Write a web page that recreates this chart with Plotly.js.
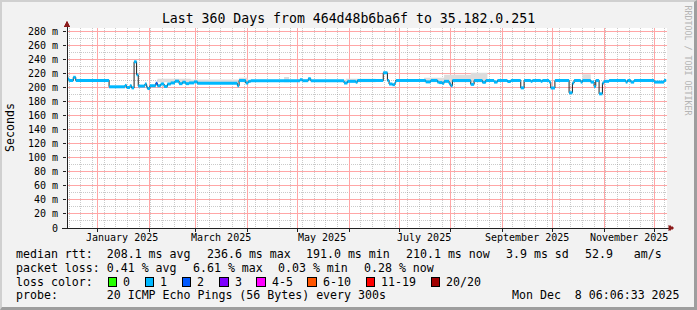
<!DOCTYPE html>
<html><head><meta charset="utf-8">
<script src="https://cdn.plot.ly/plotly-3.0.1.min.js"></script>
<style>
html,body{margin:0;padding:0;background:#f2f2f2;}
#wrap{position:relative;width:697px;height:310px;overflow:hidden;}
#chart{width:697px;height:310px;}
#chart .shapelayer path{shape-rendering:crispEdges;}
#frame{position:absolute;left:0;top:0;width:697px;height:310px;box-sizing:border-box;border-top:2px solid #d0d0d0;border-left:2px solid #d0d0d0;border-right:3px solid #9e9e9e;border-bottom:3px solid #9e9e9e;pointer-events:none;}
</style></head><body>
<div id="wrap"><div id="chart"></div><div id="frame"></div></div>
<script>
// ---------------- data ----------------
const titleText = 'Last 360 Days from 464d48b6ba6f to 35.182.0.251';
const yTitle = 'Seconds';
const xRange = ['2024-12-13 18:00', '2025-12-08 18:00'];
const dataEnd = '2025-12-08 06:00';

const stepDates = [
 '2024-12-13 18:00','2024-12-15 00:00','2024-12-17 12:00','2024-12-19 00:00','2025-01-08 00:00',
 '2025-01-17 12:00','2025-01-18 12:00','2025-01-20 12:00','2025-01-21 12:00','2025-01-23 00:00',
 '2025-01-24 12:00','2025-01-25 12:00','2025-01-29 12:00','2025-01-30 12:00','2025-01-31 00:00',
 '2025-02-01 12:00','2025-02-05 00:00','2025-02-06 00:00','2025-02-08 00:00','2025-02-10 00:00',
 '2025-02-12 00:00','2025-02-14 00:00','2025-02-16 12:00','2025-02-19 00:00','2025-02-21 00:00',
 '2025-02-23 00:00','2025-02-25 00:00','2025-02-28 00:00','2025-03-02 00:00','2025-03-26 00:00',
 '2025-03-27 00:00','2025-03-31 00:00','2025-04-01 12:00','2025-04-03 00:00','2025-05-02 12:00',
 '2025-05-04 00:00','2025-05-07 12:00','2025-05-09 00:00','2025-05-29 00:00','2025-05-31 00:00',
 '2025-06-05 00:00','2025-06-06 00:00','2025-06-21 12:00','2025-06-24 00:00','2025-06-25 00:00',
 '2025-06-27 00:00','2025-06-28 12:00','2025-06-29 00:00','2025-07-17 00:00','2025-07-20 00:00',
 '2025-07-24 00:00','2025-07-25 00:00','2025-07-27 00:00','2025-07-28 00:00','2025-07-31 00:00',
 '2025-08-01 00:00','2025-08-02 00:00','2025-08-13 00:00','2025-08-15 00:00','2025-08-20 00:00',
 '2025-08-22 00:00','2025-08-27 00:00','2025-08-29 00:00','2025-09-04 00:00','2025-09-06 00:00',
 '2025-09-12 00:00','2025-09-14 00:00','2025-09-18 00:00','2025-09-19 00:00','2025-09-24 00:00',
 '2025-09-25 00:00','2025-09-29 00:00','2025-09-30 00:00','2025-10-02 12:00','2025-10-11 00:00',
 '2025-10-13 00:00','2025-10-14 00:00','2025-10-18 00:00','2025-10-19 00:00','2025-10-24 00:00',
 '2025-10-26 00:00','2025-10-27 00:00','2025-10-29 00:00','2025-10-31 00:00','2025-11-01 00:00',
 '2025-11-04 00:00','2025-11-14 00:00','2025-11-15 00:00','2025-11-17 00:00','2025-11-19 00:00',
 '2025-12-01 00:00','2025-12-07 00:00'
];
const medianMs = [
 212,210,214.5,210.1,201,
 203,200,202.5,199.5,236.6,
 218,202,205,201,198.5,
 202.5,206,202.5,205,201.5,
 205,206.5,209,205.5,207.5,
 205.5,206.5,208,206,202.5,
 210,206.4,208.8,209.7,211,
 209.7,212.5,209.7,206.4,208.8,
 207.5,210,221,210,205,
 204,207,210,208,210,
 207.7,207,206,208.8,205.5,
 202.5,210,204.5,210,207.4,
 210,207.7,210,208.5,210,
 199.5,210,208.8,210,208.8,
 210,207.7,199.3,210,192.5,
 206.4,210,207.7,210,207.7,
 201.6,210,191,206.4,208.8,
 210,207.7,210,207.7,210,
 207.7,210.1
];
// loss colour class of each step (index into lossLabels)
const lossClass = [
 1,1,1,1,1, 1,1,1,1,1, 1,1,1,1,1, 1,2,1,1,1, 1,1,1,1,1, 1,1,1,1,1,
 1,1,1,1,1, 1,1,1,1,1, 1,1,1,1,1, 1,1,1,1,1, 1,1,1,1,1, 1,1,1,1,1,
 1,1,1,1,1, 1,1,1,1,1, 1,1,1,1,1, 1,1,1,1,1, 1,1,1,1,1, 1,1,1,1,1,
 1,1
];
// smoke (spread of the pings) blocks
const smokeStart = ['2024-12-13 18:00','2025-02-06 00:00','2025-02-26 00:00','2025-03-27 00:00','2025-04-23 00:00','2025-05-30 00:00','2025-07-16 00:00','2025-07-28 00:00','2025-08-13 00:00','2025-10-19 00:00'];
const smokeEnd   = ['2024-12-15 00:00','2025-02-26 00:00','2025-03-27 00:00','2025-04-01 00:00','2025-04-26 00:00','2025-06-17 00:00','2025-07-28 00:00','2025-08-13 00:00','2025-08-23 00:00','2025-10-24 00:00'];
const smokeTopMs = [218,212.5,211.5,214,215,212.5,214,218,221,219];

const yTickVals = [0,20,40,60,80,100,120,140,160,180,200,220,240,260,280];
const yTickText = ['0','20 m','40 m','60 m','80 m','100 m','120 m','140 m','160 m','180 m','200 m','220 m','240 m','260 m','280 m'];
const monthLabelDates = ['2025-01-16','2025-03-16','2025-05-16','2025-07-16','2025-09-16','2025-11-16'];
const monthLabels = ['January 2025','March 2025','May 2025','July 2025','September 2025','November 2025'];

const rttStats = [208.1, 236.6, 191.0, 210.1, 3.9];
const rttStatNames = ['avg','max','min','now','sd'];
const amPerSec = 52.9;
const lossStats = [0.41, 6.61, 0.03, 0.28];
const lossStatNames = ['avg','max','min','now'];
const lossLabels = ['0','1','2','3','4-5','6-10','11-19','20/20'];
const lossColors = ['#26ff00','#00b8ff','#0059ff','#7e00ff','#ff00ff','#ff5500','#ff0000','#a10000'];
const probeText = '20 ICMP Echo Pings (56 Bytes) every 300s';
const stampText = 'Mon Dec  8 06:06:33 2025';
const watermark = 'RRDTOOL / TOBI OETIKER';

// ---------------- layout helpers ----------------
const MONO = 'DejaVu Sans Mono, monospace';
const L = 67, T = 28, W = 600, H = 200;
const px = x => (x - L) / W;
const py = y => (T + H - y) / H;
const LEG = 11.6, CW = 0.602 * LEG;
const nb = s => s.replace(/ /g, '\u00a0');
const YMAX = 200 / 0.7025;

// ---------------- traces ----------------
const traces = [];
const sx = [], sy = [];
const SMOKE_BASE = 207.5;
for (let i = 0; i < smokeStart.length; i++) {
  sx.push(smokeStart[i], smokeStart[i], smokeEnd[i], smokeEnd[i], smokeStart[i], null);
  sy.push(SMOKE_BASE, smokeTopMs[i], smokeTopMs[i], SMOKE_BASE, SMOKE_BASE, null);
}
traces.push({x: sx, y: sy, type: 'scatter', mode: 'lines', fill: 'toself', fillcolor: '#dcdcdc', line: {width: 0, color: '#dcdcdc'}, hoverinfo: 'skip'});
const medX = stepDates.concat([dataEnd]);
const medY = medianMs.concat([medianMs[medianMs.length - 1]]);
traces.push({x: medX, y: medY, type: 'scatter', mode: 'lines', line: {shape: 'hv', color: '#202020', width: 1}, hoverinfo: 'skip'});
const segEnds = stepDates.slice(1).concat([dataEnd]);
[...new Set(lossClass)].forEach(c => {
  const bx = [], by = [];
  for (let i = 0; i < stepDates.length; i++) {
    if (lossClass[i] !== c) continue;
    bx.push(stepDates[i], segEnds[i], null);
    by.push(medianMs[i], medianMs[i], null);
  }
  traces.push({x: bx, y: by, type: 'scatter', mode: 'lines', line: {color: lossColors[c], width: 3}, hoverinfo: 'skip'});
});
// invisible anchor so the overlaid (major-grid) axes are drawn
traces.push({x: [dataEnd], y: [0], xaxis: 'x2', yaxis: 'y2', type: 'scatter', mode: 'markers', marker: {opacity: 0}, hoverinfo: 'skip'});

// ---------------- annotations & shapes ----------------
const shapes = [];
const annotations = [];
function txt(t, x, y, o) {
  annotations.push(Object.assign({text: nb(t), xref: 'paper', yref: 'paper', x: px(x), y: py(y), showarrow: false,
    xanchor: 'left', yanchor: 'middle', borderpad: 0, borderwidth: 0,
    font: {family: MONO, size: LEG, color: '#000'}}, o || {}));
}
monthLabelDates.forEach((d, i) => annotations.push({text: nb(monthLabels[i]), xref: 'x', yref: 'paper', x: d, y: py(237.5),
  showarrow: false, xanchor: 'center', yanchor: 'middle', borderpad: 0, borderwidth: 0, font: {family: MONO, size: 10, color: '#000'}}));
txt(yTitle, 10, 128, {textangle: -90, xanchor: 'center'});
txt(watermark, 687.5, 60, {textangle: 90, xanchor: 'center', font: {family: MONO, size: 8.3, color: '#b4b4b4'}});

const row1 = rttStats.map((v, i) => v.toFixed(1) + ' ms ' + rttStatNames[i]);
row1[0] = 'median rtt:  ' + row1[0];
row1.push(amPerSec.toFixed(1) + '   am/s');
let cx = 16;
row1.forEach(s => { txt(s, cx, 254.2); cx += s.length * CW + 16; });
const row2 = lossStats.map((v, i) => v.toFixed(2) + ' % ' + lossStatNames[i]);
row2[0] = 'packet loss: ' + row2[0];
cx = 16;
row2.forEach(s => { txt(s, cx, 267.6); cx += s.length * CW + 16; });
txt('loss color:', 16, 281.5);
cx = 16 + 11 * CW + 15.3;
lossLabels.forEach((lab, i) => {
  shapes.push({type: 'rect', xref: 'paper', yref: 'paper', x0: px(cx), x1: px(cx + 8.5), y0: py(286), y1: py(277.5),
    fillcolor: lossColors[i], line: {color: '#000', width: 1}});
  txt(lab, cx + 15, 281.5);
  cx += 15 + lab.length * CW + 15.2;
});
txt('probe:       ' + probeText, 16, 295.2);
txt(stampText, 680, 295.2, {xanchor: 'right'});

const AX = '#202020', ARROW = '#8b1a1a';
shapes.push({type: 'line', xref: 'paper', yref: 'paper', x0: px(67), x1: px(67), y0: py(228), y1: py(24), line: {color: AX, width: 1}});
shapes.push({type: 'line', xref: 'paper', yref: 'paper', x0: px(62), x1: px(670), y0: py(228), y1: py(228), line: {color: AX, width: 1}});
shapes.push({type: 'path', xref: 'paper', yref: 'paper', fillcolor: ARROW, line: {color: ARROW, width: 0.5},
  path: `M ${px(67)} ${py(21)} L ${px(64.2)} ${py(26.5)} L ${px(69.8)} ${py(26.5)} Z`});
shapes.push({type: 'path', xref: 'paper', yref: 'paper', fillcolor: ARROW, line: {color: ARROW, width: 0.5},
  path: `M ${px(674)} ${py(228)} L ${px(668.5)} ${py(225.2)} L ${px(668.5)} ${py(230.8)} Z`});

const MAJ = '#ffa6a6', MIN = 'rgba(128,128,128,0.42)', DASH = '1px,1px';
const layout = {
  width: 697, height: 310,
  margin: {l: L, r: 697 - L - W, t: T, b: 310 - T - H, pad: 0},
  paper_bgcolor: '#f2f2f2', plot_bgcolor: '#ffffff',
  showlegend: false,
  title: {text: titleText, font: {family: MONO, size: 13.2, color: '#000'}, xref: 'container', x: 0.5, xanchor: 'center',
          yref: 'container', y: 1 - 18.5 / 310, yanchor: 'middle'},
  // minor grid: weekly (Sundays) / every 10 ms
  xaxis: {type: 'date', range: xRange, tick0: '2024-12-15', dtick: 7 * 86400000, showticklabels: false, ticks: '',
          showgrid: true, gridcolor: MIN, griddash: DASH, gridwidth: 1, zeroline: false, showline: false, fixedrange: true},
  yaxis: {range: [0, YMAX], tick0: 10, dtick: 20, showticklabels: false, ticks: '',
          showgrid: true, gridcolor: MIN, griddash: DASH, gridwidth: 1, zeroline: false, showline: false, fixedrange: true},
  // major grid: months / every 20 ms, with ticks and labels
  xaxis2: {type: 'date', overlaying: 'x', side: 'bottom', range: xRange, tick0: '2025-01-01', dtick: 'M1', showticklabels: false,
          ticks: 'outside', ticklen: 3, tickcolor: AX, tickwidth: 1,
          showgrid: true, gridcolor: MAJ, griddash: 'solid', gridwidth: 1, zeroline: false, showline: false, fixedrange: true},
  yaxis2: {overlaying: 'y', side: 'left', range: [0, YMAX], tickmode: 'array', tickvals: yTickVals, ticktext: yTickText,
          ticks: 'outside', ticklen: 3, tickcolor: AX, ticklabelstandoff: 3,
          tickfont: {family: MONO, size: 10, color: '#000'},
          showgrid: true, gridcolor: MAJ, griddash: 'solid', gridwidth: 1, zeroline: false, showline: false, fixedrange: true},
  annotations: annotations,
  shapes: shapes
};
Plotly.newPlot('chart', traces, layout, {staticPlot: true, displayModeBar: false});
</script>
</body></html>
